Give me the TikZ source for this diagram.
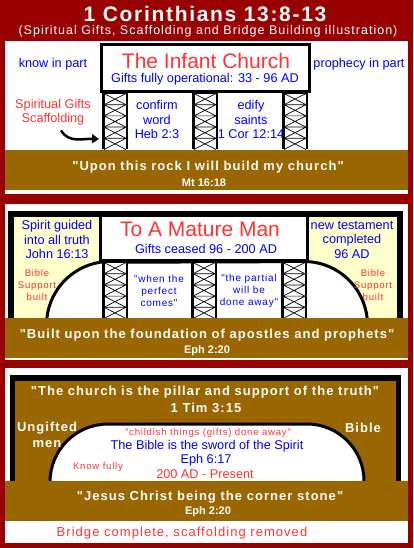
\documentclass[tikz,border=0pt]{standalone}
\usepackage{fontspec}
\setmainfont{Liberation Sans}
\newfontfamily\wideface[LetterSpace=8]{Liberation Sans}
\usetikzlibrary{arrows.meta}
\definecolor{framered}{RGB}{153,0,0}
\definecolor{rockbrown}{RGB}{153,102,0}
\definecolor{creamfill}{RGB}{255,255,204}
\definecolor{textblue}{RGB}{0,0,255}
\definecolor{textred}{RGB}{255,51,51}

\begin{document}
\begin{tikzpicture}[x=1pt,y=-1pt,
   bl/.style={text=textblue,font=\fontsize{12.7}{14.5}\selectfont,align=center,inner sep=0pt},
   rd/.style={text=textred,font=\fontsize{12.7}{14.5}\selectfont,align=center,inner sep=0pt},
   rdwide/.style={text=textred,font=\wideface\fontsize{13}{14.5}\selectfont,align=center,inner sep=0pt},
   rdsm/.style={text=textred,font=\wideface\fontsize{9.6}{12}\selectfont,align=center,inner sep=0pt},
   blsm/.style={text=textblue,font=\wideface\fontsize{10}{12}\selectfont,align=center,inner sep=0pt},
   bigred/.style={text=textred,font=\fontsize{21}{24}\selectfont,inner sep=0pt},
   wt/.style={text=white,font=\wideface\bfseries\fontsize{13}{16}\selectfont,align=center,inner sep=0pt},
   wtsm/.style={text=white,font=\bfseries\fontsize{11}{13}\selectfont,inner sep=0pt},
   wttitle/.style={text=white,font=\wideface\bfseries\fontsize{21}{24}\selectfont,inner sep=0pt},
   wtsub/.style={text=white,font=\wideface\fontsize{12.5}{14}\selectfont,inner sep=0pt},
   arr/.style={-{Triangle[length=7pt,width=9pt]},line width=2.5pt},
   tower/.pic={
     \fill[white] (0,0) rectangle (26,56);
     \foreach \k in {0,...,4}{
       \draw[line width=0.7pt] (2,\k*11.2) -- (24,\k*11.2+11.2) (2,\k*11.2+11.2) -- (24,\k*11.2)
             (2,\k*11.2) -- (24,\k*11.2);
     }
     \draw[line width=2.5pt] (1.25,0) -- (1.25,56) (24.75,0) -- (24.75,56);
   }]
  \useasboundingbox (0,0) rectangle (413,548);
  \fill[framered] (0,0) rectangle (413,548);
  \node[wttitle] (title) at (205,14) {1 Corinthians 13:8-13};
  \node[wtsub] (sub) at (208,31) {(Spiritual Gifts, Scaffolding and Bridge Building illustration)};

  % infant church
  \fill[white] (5,41) rectangle (408,194);
  \fill[rockbrown] (5,150) rectangle (408,190);
  \draw[line width=3pt,fill=white] (101.5,44.5) rectangle (309.5,91.5);
  \pic at (102,93.5) {tower};
  \pic at (192,93.5) {tower};
  \pic at (282,93.5) {tower};
  \node[bl] (know) at (53,64) {know in part};
  \node[bl] (proph) at (359,64) {prophecy in part};
  \node[bigred] (infant) at (206,61) {The Infant Church};
  \node[bl] (ops) at (205,79) {Gifts fully operational: 33 - 96 AD};
  \node[rd] (scaf) at (53,112) {Spiritual Gifts\\Scaffolding};
  \coordinate (aim) at (99,139);
  \draw[arr] ([xshift=8pt,yshift=-5pt]scaf.south) to[out=-60,in=178] (aim);
  \node[bl] (confirm) at (157,119.5) {confirm\\word\\Heb 2:3};
  \node[bl] (edify) at (251,119.5) {edify\\saints\\1 Cor 12:14};
  \node[wt] (rock) at (208,167) {"Upon this rock I will build my church"};
  \node[wtsm] (mt) at (204,183) {Mt 16:18};

  % mature man
  \fill[white] (5,204) rectangle (408,360);
  \fill (8,211) rectangle (403,318);
  \fill[creamfill] (14,217) rectangle (397,318);
  \fill (99,217) rectangle (309,263);
  \fill[white] (102,217) rectangle (306,259);
  \filldraw[fill=white,line width=3pt] (46.9,318) arc[start angle=173.7,end angle=99,radius=63.5pt]
       -- (308,261.6) arc[start angle=86.4,end angle=6.3,radius=63.5pt];
  \pic at (102,262.5) {tower};
  \pic at (191,262.5) {tower};
  \pic at (281,262.5) {tower};
  \fill[rockbrown] (5,318) rectangle (408,358);
  \node[bl] (spirit) at (57,239.5) {Spirit guided\\into all truth\\John 16:13};
  \node[rdsm] (supl) at (37,285) {Bible\\Support\\built};
  \node[bigred] (mature) at (200,229) {To A Mature Man};
  \node[bl] (ceased) at (206,249) {Gifts ceased 96 - 200 AD};
  \node[bl] (newt) at (352,239.5) {new testament\\completed\\96 AD};
  \node[rdsm] (supr) at (373,285) {Bible\\Support\\built};
  \node[blsm] (perfect) at (159,291) {"when the\\perfect\\comes"};
  \node[blsm] (partial) at (249,291) {"the partial\\will be\\done away"};
  \node[wt] (found) at (207,335) {"Built upon the foundation of apostles and prophets"};
  \node[wtsm] (eph1) at (207,351) {Eph 2:20};

  % complete bridge
  \fill[white] (5,368) rectangle (408,543);
  \fill (10,375) rectangle (401,481);
  \fill[rockbrown] (15,381) rectangle (396,481);
  \filldraw[fill=white,line width=3pt] (50,482) arc[start angle=180,end angle=90,radius=58pt]
       -- (307,424) arc[start angle=90,end angle=0,radius=57pt];
  \fill[rockbrown] (5,481) rectangle (408,521);
  \node[wt] (pillar) at (205,392) {"The church is the pillar and support of the truth"};
  \node[wt] (tim) at (206,408) {1 Tim 3:15};
  \node[wt] (ungifted) at (47,435) {Ungifted\\men};
  \node[wt] (bible) at (363,428) {Bible};
  \node[rdsm] (childish) at (208,433) {"childish things (gifts) done away"};
  \node[bl] (sword) at (207,446) {The Bible is the sword of the Spirit};
  \node[bl] (eph6) at (206,460) {Eph 6:17};
  \node[rd] (present) at (205,474) {200 AD - Present};
  \node[rdsm] (knowf) at (98,467) {Know fully};
  \node[wt] (jesus) at (210,497) {"Jesus Christ being the corner stone"};
  \node[wtsm] (eph2) at (208,512) {Eph 2:20};
  \node[rdwide] (bridge) at (182,533) {Bridge complete, scaffolding removed};
\end{tikzpicture}
\end{document}
